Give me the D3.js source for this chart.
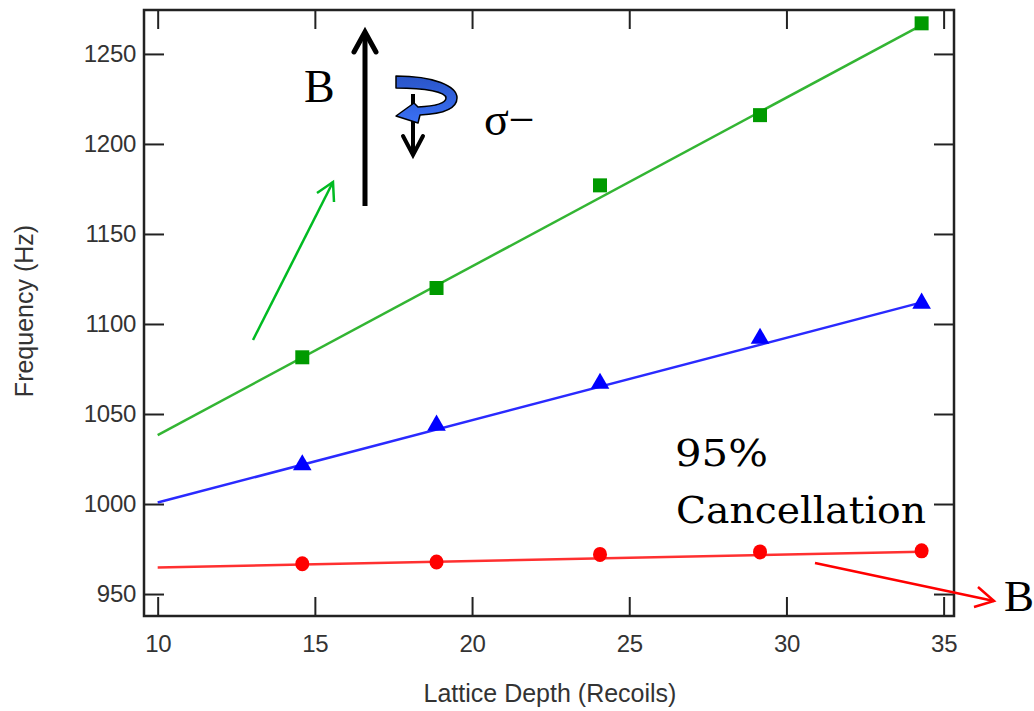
<!DOCTYPE html>
<html><head><meta charset="utf-8">
<script src="https://cdn.jsdelivr.net/npm/d3@7"></script>
<style>html,body{margin:0;padding:0;background:#fff;}svg{display:block;}</style>
</head><body>
<script>
// ---- data ----
const depth = [14.6, 18.87, 24.07, 29.16, 34.3];
const sigmaMinus = [1081.5, 1120, 1177, 1216, 1267];   // green squares
const sigmaMid   = [1021.7, 1043.7, 1067, 1092, 1111.5]; // blue triangles
const cancelled  = [966.8, 967.8, 972, 973.4, 974];    // red circles
const fitX = [10, 34.3];
const fitGreen = [1038.3, 1266];
const fitBlue  = [1000.8, 1112];
const fitRed   = [964.7, 973.5];
const xTicks = [10, 15, 20, 25, 30, 35];
const yTicks = [950, 1000, 1050, 1100, 1150, 1200, 1250];

const W = 1034, H = 711;
const m = {left:144, top:10, right:954, bottom:616};
const svg = d3.select("body").append("svg").attr("width", W).attr("height", H);
svg.append("rect").attr("width", W).attr("height", H).attr("fill", "#fff");

const x = d3.scaleLinear().domain([9.565, 35.33]).range([m.left, m.right]);
const y = d3.scaleLinear().domain([937.8, 1274.4]).range([m.bottom, m.top]);

const tickFont = "'Liberation Sans', Arial, sans-serif";
function styleAxis(g, showLabels) {
  g.select(".domain").remove();
  g.selectAll(".tick line").attr("stroke", "#222").attr("stroke-width", 2);
  g.selectAll("text").attr("font-family", tickFont).attr("font-size", 24).attr("fill", "#333")
    .attr("letter-spacing", -0.3);
  if (!showLabels) g.selectAll("text").remove();
}
svg.append("g").attr("transform", `translate(0,${m.bottom})`)
  .call(d3.axisBottom(x).tickValues(xTicks).tickSize(-19).tickPadding(19).tickFormat(d3.format("d")))
  .call(g => styleAxis(g, true));
svg.append("g").attr("transform", `translate(0,${m.top})`)
  .call(d3.axisTop(x).tickValues(xTicks).tickSize(-19))
  .call(g => styleAxis(g, false));
svg.append("g").attr("transform", `translate(${m.left},0)`)
  .call(d3.axisLeft(y).tickValues(yTicks).tickSize(-20).tickPadding(8).tickFormat(d3.format("d")))
  .call(g => styleAxis(g, true));
svg.append("g").attr("transform", `translate(${m.right},0)`)
  .call(d3.axisRight(y).tickValues(yTicks).tickSize(-20))
  .call(g => styleAxis(g, false));

// frame
svg.append("rect").attr("x", m.left).attr("y", m.top)
  .attr("width", m.right - m.left).attr("height", m.bottom - m.top)
  .attr("fill", "none").attr("stroke", "#222").attr("stroke-width", 2.5);

// axis titles
svg.append("text").attr("x", (m.left + m.right) / 2 + 1).attr("y", 702)
  .attr("text-anchor", "middle").attr("font-family", tickFont).attr("font-size", 25)
  .attr("fill", "#333").text("Lattice Depth (Recoils)");
svg.append("text").attr("transform", `translate(33,${(m.top + m.bottom) / 2 - 2}) rotate(-90)`)
  .attr("text-anchor", "middle").attr("font-family", tickFont).attr("font-size", 25)
  .attr("fill", "#333").text("Frequency (Hz)");

// fit lines
const line = d3.line().x(d => x(d[0])).y(d => y(d[1]));
const fits = [[fitGreen, "#33b533"], [fitBlue, "#2a2aff"], [fitRed, "#ff3030"]];
fits.forEach(([f, c]) => {
  svg.append("path").datum(fitX.map((v, i) => [v, f[i]])).attr("d", line)
    .attr("fill", "none").attr("stroke", c).attr("stroke-width", 2.5);
});

// markers
svg.append("g").selectAll("path").data(depth.map((d, i) => [d, sigmaMinus[i]])).join("path")
  .attr("transform", d => `translate(${x(d[0])},${y(d[1])})`)
  .attr("d", d3.symbol().type(d3.symbolSquare).size(196)).attr("fill", "#009a00");
svg.append("g").selectAll("path").data(depth.map((d, i) => [d, sigmaMid[i]])).join("path")
  .attr("transform", d => `translate(${x(d[0])},${y(d[1])})`)
  .attr("d", d3.symbol().type(d3.symbolTriangle).size(150)).attr("fill", "#0000ff");
svg.append("g").selectAll("ellipse").data(depth.map((d, i) => [d, cancelled[i]])).join("ellipse")
  .attr("cx", d => x(d[0])).attr("cy", d => y(d[1])).attr("rx", 7).attr("ry", 7.5)
  .attr("fill", "#ff0000");

// annotations
const serif = "'Liberation Serif', 'Times New Roman', serif";
const serif2 = "'DejaVu Serif', serif";
svg.append("text").attr("x", 304).attr("y", 102).attr("font-family", serif).attr("font-size", 46)
  .attr("fill", "#000").text("B");
svg.append("text").attr("x", 1004).attr("y", 611).attr("font-family", serif).attr("font-size", 45)
  .attr("fill", "#000").text("B");
svg.append("text").attr("x", 484).attr("y", 135).attr("font-family", serif).attr("font-size", 46)
  .attr("fill", "#000").text("σ−");
svg.append("text").attr("x", 675).attr("y", 466).attr("font-family", serif2).attr("font-size", 37)
  .attr("textLength", 93).attr("lengthAdjust", "spacingAndGlyphs").attr("fill", "#000").text("95%");
svg.append("text").attr("x", 676).attr("y", 523).attr("font-family", serif2).attr("font-size", 37)
  .attr("textLength", 250).attr("lengthAdjust", "spacingAndGlyphs").attr("fill", "#000").text("Cancellation");

// big B arrow
svg.append("line").attr("x1", 365).attr("y1", 206).attr("x2", 365).attr("y2", 33)
  .attr("stroke", "#000").attr("stroke-width", 5);
svg.append("path").attr("d", "M354,52 L365,32 L376,52").attr("fill", "none")
  .attr("stroke", "#000").attr("stroke-width", 5).attr("stroke-linecap", "round").attr("stroke-linejoin", "miter");
// small down arrow
svg.append("line").attr("x1", 413).attr("y1", 94).attr("x2", 413).attr("y2", 154)
  .attr("stroke", "#000").attr("stroke-width", 4);
svg.append("path").attr("d", "M403,136 L413,155 L423,136").attr("fill", "none")
  .attr("stroke", "#000").attr("stroke-width", 4).attr("stroke-linecap", "round");
// blue curl
const grad = svg.append("defs").append("linearGradient").attr("id", "bg").attr("x1", 0).attr("y1", 0).attr("x2", 0).attr("y2", 1);
grad.append("stop").attr("offset", "0%").attr("stop-color", "#2a55c8");
grad.append("stop").attr("offset", "100%").attr("stop-color", "#3a70f5");
svg.append("path")
  .attr("d", "M396,76 C434,76 457,86 457,98 C457,110 441,114 420,115 L418,123 L396,116 L414,103 L418,107 C436,106 446,103 446,98 C446,92 426,88 396,88 Z")
  .attr("fill", "url(#bg)").attr("stroke", "#000").attr("stroke-width", 1.5).attr("stroke-linejoin", "round");

// green arrow
svg.append("line").attr("x1", 253).attr("y1", 340).attr("x2", 333).attr("y2", 182)
  .attr("stroke", "#00bb22").attr("stroke-width", 2.5);
svg.append("path").attr("d", "M317,193 L333,182 L334,202").attr("fill", "none")
  .attr("stroke", "#00bb22").attr("stroke-width", 2.5);
// red arrow
svg.append("line").attr("x1", 815).attr("y1", 563).attr("x2", 994).attr("y2", 601)
  .attr("stroke", "#ff0000").attr("stroke-width", 2.5);
svg.append("path").attr("d", "M978,587 L994,601 L974,607").attr("fill", "none")
  .attr("stroke", "#ff0000").attr("stroke-width", 2.5);
</script>
</body></html>
